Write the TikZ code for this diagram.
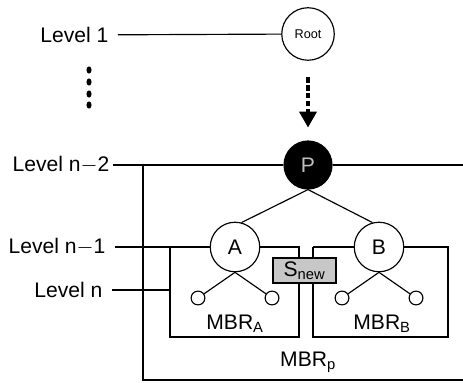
\documentclass[tikz,border=0pt]{standalone}
\usepackage{fontspec}
\setmainfont{Liberation Sans}
\usetikzlibrary{arrows.meta}
\begin{document}
\begin{tikzpicture}[line width=1.1pt, font=\fontsize{20}{24}\selectfont,
  treenode/.style={draw, circle, fill=white, inner sep=0pt, minimum size=1.65cm},
  leaf/.style={draw, circle, inner sep=0pt, minimum size=0.46cm},
  levellabel/.style={anchor=east, inner ysep=0pt, inner xsep=0.3cm},
  mbrlabel/.style={inner sep=0pt}]
\useasboundingbox (0,0) rectangle (15.433,12.733);
\node[levellabel] (lv1) at (3.933,11.567) {Level 1};
\node[levellabel, inner xsep=0.1cm] (lvn2) at (3.767,7.233) {Level n$-$2};
\node[levellabel] (lvn1) at (3.833,4.5) {Level n$-$1};
\node[levellabel] (lvn) at (3.733,3.067) {Level n};
\node[treenode, minimum size=1.75cm] (root) at (10.267,11.6) {\fontsize{12}{14}\selectfont Root};
\node[treenode, fill=black, text=black!25, minimum size=1.6cm] (P) at (10.267,7.233) {P};
\node[treenode] (A) at (7.833,4.5) {A};
\node[treenode] (B) at (12.633,4.5) {B};
\node[leaf] (a1) at (6.6,2.8) {};
\node[leaf] (a2) at (9.067,2.8) {};
\node[leaf] (b1) at (11.4,2.8) {};
\node[leaf] (b2) at (13.867,2.8) {};
\coordinate (pedge) at (15.433,7.233);
\coordinate (ptl) at (4.767,7.233);
\coordinate (pbr) at (15.433,0.067);
\coordinate (atr) at (9.967,4.5);
\coordinate (abl) at (5.667,1.5);
\coordinate (btl) at (10.433,4.5);
\coordinate (bbr) at (14.933,1.5);
\coordinate (aleft) at (5.667,3.067);
\foreach \y in {10.4,10.0,9.6,9.233}
  \fill (2.967,\y) ellipse (0.085 and 0.12);
\draw (lv1) -- (root);
\draw[line width=3.2pt, dash pattern=on 5pt off 2.5pt, -{Triangle[length=0.53cm, width=0.57cm]},
  shorten <=0.55cm, shorten >=0.43cm] (root) -- (P);
\draw (lvn2) -- (P) -- (pedge);
\draw (ptl) |- (pbr);
\draw (P.south) -- (A.75);
\draw (P.south) -- (B.105);
\draw (lvn1) -- (A) -- (atr) |- (abl) -- (abl |- atr);
\draw (lvn) -- (aleft);
\draw (btl) -- (B) -- (bbr |- btl) -- (bbr) -| (btl);
\draw (A.south) -- (a1);
\draw (A.south) -- (a2);
\draw (B.south) -- (b1);
\draw (B.south) -- (b2);
\node[draw, fill=black!22, minimum width=2.1cm, minimum height=0.83cm, inner sep=0pt] (snew) at (10.15,3.717) {S\textsubscript{new}};
\node[mbrlabel] (mbra) at (7.833,1.93) {MBR\textsubscript{A}};
\node[mbrlabel] (mbrb) at (12.733,1.93) {MBR\textsubscript{B}};
\node[mbrlabel] (mbrp) at (10.267,0.667) {MBR\textsubscript{p}};
\end{tikzpicture}
\end{document}
